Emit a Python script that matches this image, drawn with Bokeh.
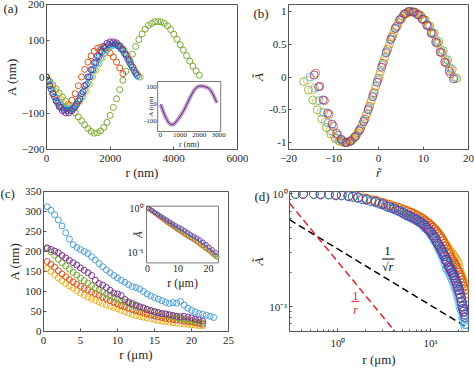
import math
from bokeh.plotting import figure
from bokeh.models import Range1d, LogScale, FixedTicker, Title
from bokeh.layouts import row, column
from bokeh.core.properties import value
from bokeh.embed import file_html
from bokeh.resources import INLINE

# ---------------- data: panel (a) ----------------
a_r_even = [0, 100, 200, 300, 400, 500, 600, 700, 800, 900, 1000, 1100, 1200, 1300, 1400,
            1500, 1600, 1700, 1800, 1900, 2000, 2100, 2200, 2300, 2400, 2500, 2600, 2700,
            2800, 2900, 3000, 3100, 3200, 3300, 3400, 3500, 3600, 3700, 3800, 3900, 4000,
            4100, 4200, 4300, 4400, 4500, 4600, 4700, 4800]
a_r_odd = [50, 150, 250, 350, 450, 550, 650, 750, 850, 950, 1050, 1150, 1250, 1350, 1450,
           1550, 1650, 1750, 1850, 1950, 2050, 2150, 2250, 2350, 2450, 2550, 2650, 2750,
           2850, 2950]
a_green = [0, -11, -22, -33, -44, -55, -66, -77, -88, -99, -110, -121, -132, -142, -150,
           -155, -154, -149, -139, -125, -106, -84, -60, -35, -9, 16, 40, 63, 84, 103,
           119, 132, 142, 148, 152, 153, 152, 148, 141, 131, 118, 104, 89, 74, 59, 44, 30, 17, 5]
a_orange = [0, -24, -46, -64, -77, -84, -84, -77, -64, -46, -24, 0, 21, 41, 58, 71, 79, 82,
            80, 75, 66, 55, 41, 25, 9]
a_purple = [0, -24, -46, -66, -82, -93, -99, -99, -93, -82, -66, -46, -24, 0, 20, 40, 58, 73,
            85, 93, 97, 97, 94, 86, 76, 62, 46, 28, 10]
a_lblue = [0, -20, -39, -56, -70, -80, -86, -88, -86, -79, -67, -52, -35, -17, 2, 20, 37, 52,
           65, 76, 84, 88, 87, 82, 72, 58, 42, 26, 12, 0]
a_blue = [-11, -34, -55, -72, -84, -91, -93, -92, -86, -75, -60, -41, -21, 0, 20, 39, 56, 70,
          81, 89, 92, 91, 86, 77, 65, 50, 34, 18, 4]
a_yellow = [-6, -22, -37, -50, -62, -72, -78, -82, -81, -76, -67, -54, -38, -20, 0, 18, 36, 52,
            66, 78, 86, 90, 89, 83, 72, 58, 41, 24, 10, 0]
ia_A = [0, -30, -60, -85, -105, -117, -120, -115, -103, -88, -72, -55, -35, -12, 12, 35, 58,
        78, 93, 103, 107, 108, 107, 104, 100, 93, 80, 60, 35, 10]
a_xticks = [0, 2000, 4000, 6000]
a_yticks = [-200, -100, 0, 100, 200]
ia_xticks = [0, 1000, 2000, 3000]
ia_yticks = [-100, 0, 100]
IA_X = (-150, 3100)
IA_Y = (-160, 135)

# ---------------- data: panel (b) ----------------
b_x_green = [-16.6, -15.6, -14.6, -13.6, -12.6, -11.6, -10.6, -9.6, -8.6, -7.6, -6.6, -5.6,
             -4.6, -3.6, -2.6, -1.6, -0.6, 0.4, 1.4, 2.4, 3.4, 4.4, 5.4, 6.4, 7.4, 8.4, 9.4,
             10.4, 11.4, 12.4, 13.4, 14.4, 15.4, 16.4, 17.4]
b_y_green = [-0.07, -0.2, -0.35, -0.5, -0.64, -0.77, -0.87, -0.94, -0.98, -1.0, -0.99, -0.94,
             -0.85, -0.72, -0.56, -0.36, -0.14, 0.08, 0.3, 0.5, 0.68, 0.83, 0.93, 0.98, 1.0,
             0.98, 0.94, 0.87, 0.78, 0.67, 0.54, 0.4, 0.26, 0.12, -0.02]
b_x_purple = [-14.3, -13.3, -12.3, -11.3, -10.3, -9.3, -8.3, -7.3, -6.3, -5.3, -4.3, -3.3,
              -2.3, -1.3, -0.3, 0.7, 1.7, 2.7, 3.7, 4.7, 5.7, 6.7, 7.7, 8.7, 9.7, 10.7, 11.7,
              12.7, 13.7, 14.7, 15.7, 16.7]
b_y_purple = [0.03, -0.15, -0.35, -0.55, -0.72, -0.86, -0.95, -1.0, -0.98, -0.92, -0.82, -0.68,
              -0.5, -0.3, -0.08, 0.15, 0.37, 0.57, 0.74, 0.87, 0.96, 1.0, 0.99, 0.95, 0.88,
              0.79, 0.67, 0.53, 0.38, 0.23, 0.09, -0.03]
b_x_yellow = [-15.8, -14.8, -13.8, -12.8, -11.8, -10.8, -9.8, -8.8, -7.8, -6.8, -5.8, -4.8,
              -3.8, -2.8, -1.8, -0.8, 0.2, 1.2, 2.2, 3.2, 4.2, 5.2, 6.2, 7.2, 8.2, 9.2, 10.2,
              11.2, 12.2, 13.2, 14.2, 15.2, 16.2, 17.2]
b_y_yellow = [-0.05, -0.2, -0.37, -0.54, -0.69, -0.82, -0.92, -0.98, -1.0, -0.99, -0.95, -0.87,
              -0.75, -0.59, -0.4, -0.19, 0.03, 0.25, 0.45, 0.63, 0.78, 0.89, 0.96, 0.99, 0.98,
              0.94, 0.87, 0.77, 0.65, 0.51, 0.37, 0.23, 0.1, -0.02]
b_x_red = [-14.0, -13.0, -12.0, -11.0, -10.0, -9.0, -8.0, -7.0, -6.0, -5.0, -4.0, -3.0, -2.0,
           -1.0, 0.0, 1.0, 2.0, 3.0, 4.0, 5.0, 6.0, 7.0, 8.0, 9.0, 10.0, 11.0, 12.0, 13.0,
           14.0, 15.0, 16.0]
b_y_red = [0.06, -0.14, -0.36, -0.57, -0.75, -0.89, -0.97, -1.0, -0.97, -0.9, -0.79, -0.64,
           -0.45, -0.24, -0.02, 0.21, 0.42, 0.61, 0.77, 0.89, 0.97, 1.0, 0.99, 0.95, 0.88,
           0.78, 0.66, 0.52, 0.37, 0.21, 0.05]
b_x_blue = [-15.2, -14.2, -13.2, -12.2, -11.2, -10.2, -9.2, -8.2, -7.2, -6.2, -5.2, -4.2, -3.2,
            -2.2, -1.2, -0.2, 0.8, 1.8, 2.8, 3.8, 4.8, 5.8, 6.8, 7.8, 8.8, 9.8, 10.8, 11.8,
            12.8, 13.8, 14.8, 15.8, 16.8]
b_y_blue = [0.0, -0.17, -0.36, -0.54, -0.7, -0.83, -0.93, -0.98, -1.0, -0.98, -0.91, -0.8,
            -0.66, -0.48, -0.27, -0.05, 0.18, 0.39, 0.58, 0.75, 0.88, 0.96, 1.0, 0.99, 0.95,
            0.89, 0.8, 0.69, 0.56, 0.42, 0.28, 0.14, 0.0]
b_xticks = [-20, -10, 0, 10, 20]
b_yticks = [-1, -0.5, 0, 0.5, 1]
b_ylabels = ["-1", "-0.5", "0", "0.5", "1"]

# ---------------- data: panel (c) ----------------
c_r = [0.5, 1.0, 1.5, 2.0, 2.5, 3.0, 3.5, 4.0, 4.5, 5.0, 5.5, 6.0, 6.5, 7.0, 7.5, 8.0, 8.5,
       9.0, 9.5, 10.0, 10.5, 11.0, 11.5, 12.0, 12.5, 13.0, 13.5, 14.0, 14.5, 15.0, 15.5, 16.0,
       16.5, 17.0, 17.5, 18.0, 18.5, 19.0, 19.5, 20.0, 20.5, 21.0, 21.5, 22.0, 22.5, 23.0]
c_blue = [312, 303, 292, 279, 264, 247, 231, 217, 210, 205, 200, 195, 187, 179, 170, 162, 154,
          147, 140, 134, 128, 123, 117, 112, 110, 106, 100, 94, 89, 85, 81, 77, 73, 70, 72, 71,
          75, 66, 58, 53, 49, 45, 43, 41, 38, 35]
c_purple = [209, 205, 201, 197, 190, 184, 178, 172, 166, 159, 153, 147, 140, 128, 120, 116, 110,
            103, 96, 94, 90, 80, 74, 70, 66, 62, 59, 55, 52, 49, 47, 45, 44, 42, 40, 38, 37, 38,
            36, 34, 31, 29, 26]
c_green = [207, 199, 190, 181, 172, 164, 156, 148, 141, 134, 127, 121, 115, 109, 104, 99, 94, 90,
           85, 81, 77, 74, 70, 66, 63, 60, 58, 55, 52, 50, 47, 44, 42, 40, 37, 35, 33, 31, 29,
           27, 25, 23, 21]
c_orange = [175, 168, 161, 152, 144, 137, 130, 124, 118, 113, 108, 104, 99, 95, 91, 86, 82, 77,
            73, 69, 65, 62, 58, 55, 52, 49, 47, 44, 41, 39, 37, 35, 33, 31, 30, 29, 28, 26, 25,
            24, 22, 20, 18]
c_yellow = [158, 150, 142, 134, 127, 120, 114, 108, 102, 96, 91, 86, 82, 78, 74, 70, 66, 63, 60,
            57, 53, 50, 46, 43, 40, 38, 36, 34, 32, 30, 28, 26, 25, 23, 22, 21, 20, 19, 18, 17,
            16, 15, 14]
c_xticks = [0, 5, 10, 15, 20, 25]
c_yticks = [0, 50, 100, 150, 200, 250, 300, 350]
ic_r1 = [0.3, 1.3, 2.3, 3.3, 4.3, 5.3, 6.3, 7.3, 8.3, 9.3, 10.3, 11.3, 12.3, 13.3, 14.3, 15.3,
         16.3, 17.3, 18.3, 19.3, 20.3, 21.3, 22.3]
ic_r2 = [0.8, 1.8, 2.8, 3.8, 4.8, 5.8, 6.8, 7.8, 8.8, 9.8, 10.8, 11.8, 12.8, 13.8, 14.8, 15.8,
         16.8, 17.8, 18.8, 19.8, 20.8, 21.8, 22.8]
ic_purple = [1.0, 0.9, 0.81, 0.73, 0.66, 0.6, 0.54, 0.49, 0.44, 0.4, 0.37, 0.34, 0.31, 0.28,
             0.25, 0.23, 0.21, 0.19, 0.17, 0.15, 0.13, 0.115, 0.1]
ic_blue = [0.95, 0.86, 0.77, 0.69, 0.62, 0.56, 0.5, 0.45, 0.41, 0.37, 0.34, 0.31, 0.28, 0.26,
           0.23, 0.21, 0.19, 0.17, 0.15, 0.13, 0.11, 0.095, 0.08]
ic_yellow = [0.98, 0.88, 0.78, 0.7, 0.62, 0.55, 0.49, 0.44, 0.39, 0.35, 0.32, 0.29, 0.26, 0.23,
             0.21, 0.19, 0.17, 0.15, 0.13, 0.12, 0.105, 0.09, 0.08]
ic_green = [0.94, 0.84, 0.75, 0.67, 0.6, 0.53, 0.47, 0.42, 0.37, 0.33, 0.3, 0.27, 0.24, 0.22,
            0.2, 0.18, 0.16, 0.14, 0.125, 0.11, 0.1, 0.085, 0.075]
ic_orange = [0.97, 0.87, 0.78, 0.69, 0.61, 0.54, 0.48, 0.43, 0.39, 0.35, 0.31, 0.28, 0.25, 0.23,
             0.21, 0.19, 0.17, 0.15, 0.14, 0.12, 0.11, 0.095, 0.085]
ic_xticks = [0, 10, 20]
ic_yticks = [0.1, 1]
ic_ylabels = ["10\u207b\u00b9", "10\u2070"]
IC_X = (-0.33, 23.3)
IC_LOGY = (-1.244, 0.044)

# ---------------- data: panel (d) ----------------
d_r1 = [0.35, 0.55, 0.8, 1.1, 1.45, 1.85, 2.3, 2.8, 3.3, 3.8, 4.3, 4.8, 5.3, 5.8, 6.3, 6.8, 7.3,
        7.8, 8.3, 8.8, 9.3, 9.8, 10.3, 10.8, 11.3, 11.8, 12.3, 12.8, 13.3, 13.8, 14.3, 14.8,
        15.3, 15.8, 16.3, 16.8, 17.3, 17.8, 18.3, 18.8, 19.3, 19.8, 20.3, 20.8, 21.3, 21.8,
        22.3, 22.8, 23.3, 23.8]
d_r2 = [0.42, 0.65, 0.95, 1.3, 1.65, 2.05, 2.55, 3.05, 3.55, 4.05, 4.55, 5.05, 5.55, 6.05, 6.55,
        7.05, 7.55, 8.05, 8.55, 9.05, 9.55, 10.05, 10.55, 11.05, 11.55, 12.05, 12.55, 13.05,
        13.55, 14.05, 14.55, 15.05, 15.55, 16.05, 16.55, 17.05, 17.55, 18.05, 18.55, 19.05,
        19.55, 20.05, 20.55, 21.05, 21.55, 22.05, 22.55, 23.05, 23.55, 24.05]
d_blue = [1.0, 1.0, 0.99, 0.97, 0.94, 0.9, 0.86, 0.82, 0.78, 0.75, 0.72, 0.69, 0.66, 0.64, 0.62,
          0.6, 0.58, 0.56, 0.54, 0.52, 0.49, 0.47, 0.45, 0.42, 0.4, 0.37, 0.35, 0.33, 0.31, 0.29,
          0.28, 0.26, 0.25, 0.23, 0.22, 0.21, 0.2, 0.19, 0.18, 0.17, 0.16, 0.15, 0.14, 0.13,
          0.12, 0.11, 0.1, 0.09, 0.08, 0.07]
d_orange = [1.0, 0.99, 0.98, 0.96, 0.93, 0.9, 0.87, 0.83, 0.8, 0.77, 0.75, 0.72, 0.7, 0.68,
            0.66, 0.64, 0.62, 0.6, 0.58, 0.56, 0.54, 0.52, 0.5, 0.48, 0.46, 0.44, 0.42, 0.4,
            0.38, 0.36, 0.34, 0.32, 0.3, 0.29, 0.27, 0.26, 0.25, 0.24, 0.23, 0.22, 0.21, 0.2,
            0.19, 0.18, 0.17, 0.16, 0.15, 0.14, 0.13, 0.12]
d_yellow = [1.0, 1.0, 0.99, 0.98, 0.96, 0.93, 0.89, 0.85, 0.82, 0.79, 0.76, 0.74, 0.72, 0.7,
            0.68, 0.66, 0.64, 0.62, 0.6, 0.58, 0.56, 0.54, 0.52, 0.5, 0.48, 0.46, 0.44, 0.42,
            0.4, 0.38, 0.36, 0.35, 0.33, 0.32, 0.31, 0.3, 0.29, 0.28, 0.27, 0.26, 0.25, 0.24,
            0.22, 0.2, 0.19, 0.18, 0.17, 0.16, 0.15, 0.14]
d_purple = [1.0, 1.0, 0.98, 0.96, 0.93, 0.89, 0.85, 0.81, 0.77, 0.74, 0.71, 0.68, 0.65, 0.63,
            0.61, 0.59, 0.57, 0.55, 0.53, 0.5, 0.48, 0.46, 0.43, 0.41, 0.38, 0.36, 0.34, 0.32,
            0.3, 0.28, 0.26, 0.25, 0.23, 0.22, 0.21, 0.2, 0.19, 0.18, 0.17, 0.16, 0.15, 0.14,
            0.13, 0.12, 0.11, 0.1, 0.095, 0.09, 0.085, 0.08]
d_lblue = [1.0, 0.99, 0.97, 0.95, 0.92, 0.88, 0.84, 0.8, 0.76, 0.73, 0.7, 0.67, 0.64, 0.62, 0.6,
           0.58, 0.56, 0.54, 0.51, 0.49, 0.47, 0.44, 0.42, 0.39, 0.37, 0.34, 0.32, 0.3, 0.28,
           0.26, 0.24, 0.22, 0.21, 0.2, 0.19, 0.18, 0.17, 0.16, 0.15, 0.14, 0.13, 0.12, 0.11,
           0.1, 0.095, 0.09, 0.08, 0.075, 0.07, 0.065]
d_sqrt_x = [0.3, 25.7]
d_sqrt_y = [0.59, 0.064]
d_inv_x = [0.3, 4.2]
d_inv_y = [0.83, 0.059]
d_xticks = [1, 10]
d_xminor = [0.3, 0.4, 0.5, 0.6, 0.7, 0.8, 0.9, 2, 3, 4, 5, 6, 7, 8, 9, 20]
d_yticks = [0.1, 1]
d_yminor = [0.06, 0.07, 0.08, 0.09, 0.2, 0.3, 0.4, 0.5, 0.6, 0.7, 0.8, 0.9]

# ---------------- style ----------------
FONT = "Liberation Serif"
INK = "#262626"
FRAME = "#555555"
BLUE = "#0072BD"; ORANGE = "#D95319"; YELLOW = "#EDB120"; PURPLE = "#7E2F8E"
GREEN = "#77AC30"; LBLUE = "#4DBEEE"; CBLUE = "#4A9FD8"; RED = "#E3262B"


def pair(x, y):
    n = min(len(x), len(y))
    return list(x[:n]), list(y[:n])


def lin_span(d0, d1, f0, f1):
    s = (d1 - d0) / (f1 - f0)
    return d0 - f0 * s, d0 + (1 - f0) * s


def base_fig(w, h, xr, yr, borders, **kw):
    l, r, t, b = borders
    p = figure(width=w, height=h, x_range=xr, y_range=yr, output_backend="svg",
               toolbar_location=None, min_border_left=l, min_border_right=r,
               min_border_top=t, min_border_bottom=b, **kw)
    p.grid.visible = False
    p.outline_line_color = FRAME
    p.outline_line_width = 1
    p.background_fill_color = "white"
    p.border_fill_color = "white"
    for ax in p.axis:
        ax.axis_line_color = FRAME
        ax.major_tick_line_color = FRAME
        ax.minor_tick_line_color = FRAME
        ax.major_tick_in = 3
        ax.major_tick_out = 0
        ax.minor_tick_in = 0
        ax.minor_tick_out = 0
        ax.major_label_text_font = FONT
        ax.major_label_text_font_size = "11px"
        ax.major_label_text_color = INK
        ax.axis_label_text_font = FONT
        ax.axis_label_text_font_size = "13px"
        ax.axis_label_text_font_style = "normal"
        ax.axis_label_text_color = INK
        ax.axis_label_standoff = 0
    for ax in p.xaxis:
        ax.major_label_standoff = 5
    for ax in p.yaxis:
        ax.major_label_standoff = 2
    return p


def panel_label(p, txt, offset, standoff):
    # panel letter as a title in the top panel, pulled down next to the frame
    p.add_layout(Title(text=txt, align="left", vertical_align="bottom", offset=offset,
                       standoff=standoff, text_font=FONT, text_font_size="13px",
                       text_font_style="normal", text_color=INK), "above")


def circles(p, x, y, color, size, lw=1.0, **kw):
    xs, ys = pair(x, y)
    p.scatter(xs, ys, marker="circle", size=size, fill_color=None, line_color=color,
              line_width=lw, **kw)


def txt(p, x, y, s, size, rng, **kw):
    p.text(x=x, y=y, text=s, x_range_name=rng, y_range_name=rng,
           text_font=value(FONT), text_font_size=value(size), text_color=INK, **kw)


# ---------------- panel (a) ----------------
pa = base_fig(248, 184, (0, 6000), (-200, 200), (43, 11, 4, 35))
pa.xaxis.ticker = FixedTicker(ticks=a_xticks)
pa.yaxis.ticker = FixedTicker(ticks=a_yticks)
pa.xaxis.axis_label = "r (nm)"
pa.yaxis.axis_label = "A (nm)"
circles(pa, a_r_even, a_green, GREEN, 6)
circles(pa, a_r_even, a_orange, ORANGE, 6)
circles(pa, a_r_odd, a_yellow, YELLOW, 6)
circles(pa, a_r_even, a_lblue, LBLUE, 6)
circles(pa, a_r_odd, a_blue, BLUE, 6)
circles(pa, a_r_even, a_purple, PURPLE, 6)

pa.extra_x_ranges = {"ia": Range1d(*lin_span(IA_X[0], IA_X[1], 0.582, 0.912))}
pa.extra_y_ranges = {"ia": Range1d(*lin_span(IA_Y[0], IA_Y[1], 0.124, 0.469))}
pa.quad(left=[IA_X[0]], right=[IA_X[1]], bottom=[IA_Y[0]], top=[IA_Y[1]],
        x_range_name="ia", y_range_name="ia", fill_color="white", line_color=FRAME,
        line_width=0.8)
ia_x, ia_y = pair(a_r_even, ia_A)
pa.line(ia_x, ia_y, x_range_name="ia", y_range_name="ia", line_color="#B58CC4",
        line_width=4, line_alpha=0.8)
pa.line(ia_x, ia_y, x_range_name="ia", y_range_name="ia", line_color="#5E2470",
        line_width=1)
txt(pa, ia_xticks, [IA_Y[0]] * len(ia_xticks), [str(t) for t in ia_xticks], "7px", "ia",
    text_align="center", text_baseline="top", y_offset=1)
txt(pa, [IA_X[0]] * len(ia_yticks), ia_yticks, [str(t) for t in ia_yticks], "7px", "ia",
    text_align="right", text_baseline="middle", x_offset=-1)
txt(pa, [(IA_X[0] + IA_X[1]) / 2], [IA_Y[0]], ["r (nm)"], "8px", "ia",
    text_align="center", text_baseline="top", y_offset=8)
txt(pa, [IA_X[0]], [(IA_Y[0] + IA_Y[1]) / 2], ["A (nm)"], "7px", "ia",
    text_align="center", text_baseline="middle", x_offset=-7, angle=math.pi / 2)
panel_label(pa, "(a)", -43, -22)

# ---------------- panel (b) ----------------
pb = base_fig(226, 184, (-20, 20), (-1.106, 1.106), (36, 6, 4, 35))
pb.xaxis.ticker = FixedTicker(ticks=b_xticks)
pb.yaxis.ticker = FixedTicker(ticks=b_yticks)
pb.yaxis.major_label_overrides = dict(zip(b_yticks, b_ylabels))
pb.xaxis.axis_label = "r\u0303"
pb.yaxis.axis_label = "\u00c3"
pb.xaxis.axis_label_text_font_style = "italic"
pb.yaxis.axis_label_text_font_style = "italic"
circles(pb, b_x_green, b_y_green, GREEN, 8, 0.8)
circles(pb, b_x_yellow, b_y_yellow, YELLOW, 8, 0.8)
circles(pb, b_x_blue, b_y_blue, LBLUE, 8, 0.8)
circles(pb, b_x_red, b_y_red, ORANGE, 8, 0.8)
circles(pb, b_x_purple, b_y_purple, PURPLE, 8, 0.8)
panel_label(pb, "(b)", -35, -32)

# ---------------- panel (c) ----------------
pc = base_fig(248, 185, (0, 25), (0, 350), (43, 20, 6, 36))
pc.xaxis.ticker = FixedTicker(ticks=c_xticks)
pc.yaxis.ticker = FixedTicker(ticks=c_yticks)
pc.xaxis.axis_label = "r (\u03bcm)"
pc.yaxis.axis_label = "A (nm)"
circles(pc, c_r, c_yellow, YELLOW, 6)
circles(pc, c_r, c_orange, ORANGE, 6)
circles(pc, c_r, c_green, GREEN, 6)
circles(pc, c_r, c_purple, PURPLE, 6)
circles(pc, c_r, c_blue, CBLUE, 6)

ly = lin_span(IC_LOGY[0], IC_LOGY[1], 0.49, 0.895)
pc.extra_x_ranges = {"ic": Range1d(*lin_span(IC_X[0], IC_X[1], 0.557, 0.946))}
pc.extra_y_ranges = {"ic": Range1d(10 ** ly[0], 10 ** ly[1])}
pc.extra_y_scales = {"ic": LogScale()}
pc.quad(left=[IC_X[0]], right=[IC_X[1]], bottom=[10 ** IC_LOGY[0]], top=[10 ** IC_LOGY[1]],
        x_range_name="ic", y_range_name="ic", fill_color="white", line_color=FRAME,
        line_width=0.8)
for xr_, yv, col in [(ic_r1, ic_yellow, YELLOW), (ic_r2, ic_green, GREEN),
                     (ic_r1, ic_orange, ORANGE), (ic_r2, ic_blue, CBLUE),
                     (ic_r1, ic_purple, PURPLE)]:
    circles(pc, xr_, yv, col, 4, 0.8, x_range_name="ic", y_range_name="ic")
txt(pc, ic_xticks, [10 ** IC_LOGY[0]] * len(ic_xticks), [str(t) for t in ic_xticks], "10px",
    "ic", text_align="center", text_baseline="top", y_offset=2)
txt(pc, [IC_X[0]] * len(ic_yticks), ic_yticks, ic_ylabels, "10px", "ic",
    text_align="right", text_baseline="middle", x_offset=-3)
txt(pc, [(IC_X[0] + IC_X[1]) / 2], [10 ** IC_LOGY[0]], ["r (\u03bcm)"], "12px", "ic",
    text_align="center", text_baseline="top", y_offset=13)
txt(pc, [IC_X[0]], [10 ** ((IC_LOGY[0] + IC_LOGY[1]) / 2)], ["\u00c3"], "11px", "ic",
    text_align="center", text_baseline="middle", x_offset=-9, angle=math.pi / 2,
    text_font_style="italic")
panel_label(pc, "(c)", -43, -18)

# ---------------- panel (d) ----------------
pd = base_fig(226, 185, (0.3, 25.7), (0.06, 1.05), (36, 6, 7, 36),
              x_axis_type="log", y_axis_type="log")
pd.xaxis.ticker = FixedTicker(ticks=d_xticks, minor_ticks=d_xminor)
pd.yaxis.ticker = FixedTicker(ticks=d_yticks, minor_ticks=d_yminor)
pd.xaxis.major_label_overrides = {1: "10\u2070", 10: "10\u00b9"}
pd.yaxis.major_label_overrides = {0.1: "10\u207b\u00b9", 1: "10\u2070"}
for ax in pd.axis:
    ax.minor_tick_in = 2
pd.xaxis.axis_label = "r (\u03bcm)"
pd.yaxis.axis_label = "\u00c3"
pd.yaxis.axis_label_text_font_style = "italic"
pd.line(d_sqrt_x, d_sqrt_y, line_color="black", line_width=1.5, line_dash="7 4")
pd.line(d_inv_x, d_inv_y, line_color=RED, line_width=1.5, line_dash="7 4")
circles(pd, d_r1, d_yellow, YELLOW, 9)
circles(pd, d_r2, d_orange, ORANGE, 9)
circles(pd, d_r1, d_blue, BLUE, 9)
circles(pd, d_r2, d_lblue, LBLUE, 9)
circles(pd, d_r2, d_purple, PURPLE, 9)
pd.text(x=[3.44], y=[0.31], text=["1"], text_font=value(FONT), text_font_size=value("12px"),
        text_color="black", text_align="center", text_baseline="middle")
pd.segment(x0=[2.98], y0=[0.264], x1=[4.08], y1=[0.264], line_color="black", line_width=1)
pd.text(x=[3.44], y=[0.224], text=["\u221ar"], text_font=value(FONT),
        text_font_size=value("12px"), text_font_style="italic", text_color="black",
        text_align="center", text_baseline="middle")
pd.text(x=[1.55], y=[0.125], text=["1"], text_font=value(FONT), text_font_size=value("12px"),
        text_color=RED, text_align="center", text_baseline="middle")
pd.segment(x0=[1.40], y0=[0.111], x1=[1.70], y1=[0.111], line_color=RED, line_width=1)
pd.text(x=[1.55], y=[0.094], text=["r"], text_font=value(FONT), text_font_size=value("12px"),
        text_font_style="italic", text_color=RED, text_align="center", text_baseline="middle")
panel_label(pd, "(d)", -35, -24)

layout = column(row(pa, pb), row(pc, pd))
open("out.html", "w").write(file_html(layout, INLINE))
